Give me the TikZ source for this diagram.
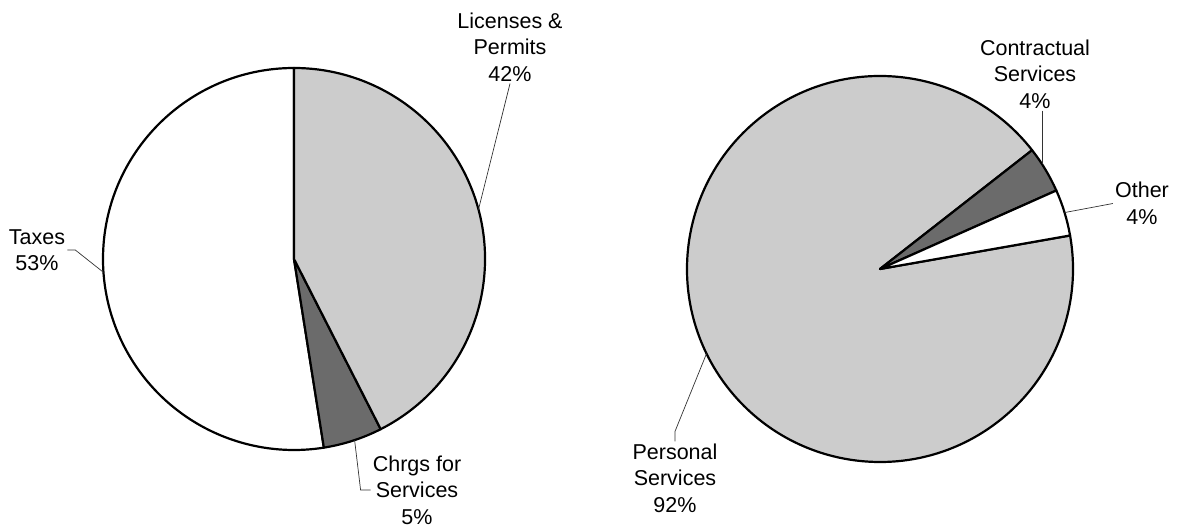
\documentclass[tikz,border=0pt]{standalone}
\usepackage{fontspec}
\setmainfont{Liberation Sans}
\usetikzlibrary{positioning,calc}
\definecolor{pLight}{gray}{0.8}
\definecolor{pDark}{gray}{0.42}
\tikzset{
    slice/.style={draw=black, line width=2.2pt, line join=round},
    lbl/.style={align=center, font=\fontsize{21.5}{26.5}\selectfont, inner sep=2pt},
    leader/.style={line width=0.7pt, black!80}
}

\begin{document}
\begin{tikzpicture}[x=1pt,y=1pt]
\useasboundingbox (0,0) rectangle (1179,527);
% revenue pie
\coordinate (cL) at (294,268);
\draw[slice,fill=white] (cL) -- ([shift={(90:191pt)}]cL) arc[start angle=90,end angle=279,radius=191pt] -- cycle;
\draw[slice,fill=pDark] (cL) -- ([shift={(-81:191pt)}]cL) arc[start angle=-81,end angle=-63,radius=191pt] -- cycle;
\draw[slice,fill=pLight] (cL) -- ([shift={(-63:191pt)}]cL) arc[start angle=-63,end angle=90,radius=191pt] -- cycle;
\node[lbl] (lic) at (510,480) {Licenses \&\\Permits\\42\%};
\node[lbl] (taxes) at (37,277) {Taxes\\53\%};
\node[lbl] (chrgs) at (417,37) {Chrgs for\\Services\\5\%};
\coordinate (licTip) at ([shift={(15:191pt)}]cL);
\coordinate (taxTip) at ([shift={(184:191pt)}]cL);
\coordinate (chrTip) at ([shift={(-71.5:191pt)}]cL);
\draw[leader] (lic.south) -- (licTip);
\draw[leader] (taxes.east) -- ++(8pt,0) -- (taxTip);
\draw[leader] (chrgs.west) -- ++(-10pt,0) -- (chrTip);
% expense pie
\coordinate (cR) at (880,258);
\draw[slice,fill=pLight] (cR) -- ([shift={(38:193pt)}]cR) arc[start angle=38,end angle=370,radius=193pt] -- cycle;
\draw[slice,fill=pDark] (cR) -- ([shift={(24:193pt)}]cR) arc[start angle=24,end angle=38,radius=193pt] -- cycle;
\draw[slice,fill=white] (cR) -- ([shift={(10:193pt)}]cR) arc[start angle=10,end angle=24,radius=193pt] -- cycle;
\node[lbl] (con) at (1035,453) {Contractual\\Services\\4\%};
\node[lbl] (oth) at (1142,323.5) {Other\\4\%};
\node[lbl] (per) at (675,49) {Personal\\Services\\92\%};
\coordinate (conTip) at ([shift={(33:193pt)}]cR);
\coordinate (othTip) at ([shift={(17:193pt)}]cR);
\coordinate (perTip) at ([shift={(206:193pt)}]cR);
\draw[leader] (con.south -| conTip) -- (conTip);
\draw[leader] (oth.west) -- (othTip);
\draw[leader] (per.north) -- ++(0,10pt) -- (perTip);
\end{tikzpicture}
\end{document}
